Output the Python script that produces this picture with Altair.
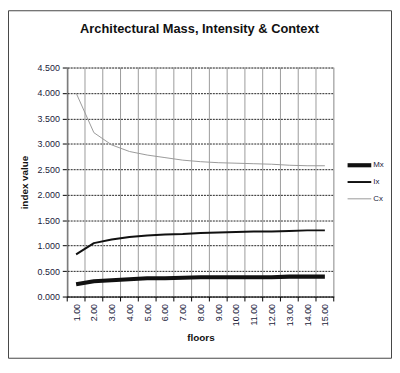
import altair as alt
import pandas as pd

floors = list(range(1, 16))
series_names = ["Mx", "Ix", "Cx"]
mx = [0.24, 0.30, 0.32, 0.34, 0.36, 0.36, 0.37, 0.38, 0.38, 0.38, 0.38, 0.38, 0.39, 0.39, 0.39]
ix = [0.83, 1.05, 1.12, 1.17, 1.20, 1.22, 1.23, 1.25, 1.26, 1.27, 1.28, 1.28, 1.29, 1.30, 1.30]
cx = [4.00, 3.22, 2.98, 2.85, 2.78, 2.73, 2.68, 2.65, 2.63, 2.62, 2.61, 2.60, 2.58, 2.57, 2.57]
y_ticks = [0.0, 0.5, 1.0, 1.5, 2.0, 2.5, 3.0, 3.5, 4.0, 4.5]
title_text = "Architectural Mass, Intensity & Context"

rows = []
for name, vals in zip(series_names, [mx, ix, cx]):
    for f, v in zip(floors, vals):
        rows.append({"series": name, "floor": f, "value": v})
df = pd.DataFrame(rows)

bounds = pd.DataFrame({"floor": [f - 0.5 for f in floors] + [floors[-1] + 0.5]})

W, H = 270, 232
FONT = "Liberation Sans"
LABEL_COLOR = "#1a1a3a"

xscale = alt.Scale(domain=[0.5, 15.5], nice=False, zero=False)
yscale = alt.Scale(domain=[0, 4.5], nice=False)
cscale = alt.Scale(domain=series_names, range=["#111", "#111", "#999999"])
wscale = alt.Scale(type="ordinal", domain=series_names, range=[4.2, 2, 1])

xaxis = alt.Axis(
    values=floors, format=".2f", labelAngle=-90, ticks=False, grid=False,
    labelOverlap=False, labelFlush=False,
    domainColor="#000", labelFont=FONT, labelFontSize=9, labelColor=LABEL_COLOR,
    labelPadding=7, title="floors", titleFont=FONT, titleFontSize=10,
    titleFontWeight="bold", titleColor="#111", titlePadding=7,
)
yaxis = alt.Axis(
    values=y_ticks, format=".3f", grid=True, gridColor="#222", gridDash=[2, 1],
    tickSize=5, tickColor="#000", domainColor="#000",
    labelFont=FONT, labelFontSize=9, labelColor=LABEL_COLOR, labelPadding=3,
    title="index value", titleFont=FONT, titleFontSize=10, titleFontWeight="bold",
    titleColor="#111", titlePadding=8,
)

one = pd.DataFrame({"a": [0]})

border = alt.Chart(one).mark_rect(
    fillOpacity=0, stroke="#444", strokeWidth=1
).encode(
    x=alt.value(-59.5), x2=alt.value(328.5), y=alt.value(-57.5), y2=alt.value(294.5)
)

title = alt.Chart(one).mark_text(
    text=title_text, font=FONT, fontSize=13, fontWeight="bold", color="#111",
    align="center", baseline="middle",
).encode(x=alt.value(134), y=alt.value(-39))

vgrid = alt.Chart(bounds).mark_rule(color="#9a9a9a", strokeWidth=1).encode(
    x=alt.X("floor:Q", scale=xscale, axis=xaxis),
    y=alt.value(0), y2=alt.value(H),
)

xticks = alt.Chart(bounds).mark_rule(color="#000", strokeWidth=1).encode(
    x=alt.X("floor:Q", scale=xscale, axis=xaxis),
    y=alt.value(H), y2=alt.value(H + 5),
)

lines = alt.Chart(df).mark_line(strokeCap="butt", strokeJoin="round").encode(
    x=alt.X("floor:Q", scale=xscale, axis=xaxis),
    y=alt.Y("value:Q", scale=yscale, axis=yaxis),
    color=alt.Color("series:N", scale=cscale, legend=None),
    strokeWidth=alt.StrokeWidth("series:N", scale=wscale, legend=None),
    order="floor:Q",
)

legend_layers = []
for i, name in enumerate(series_names):
    d = pd.DataFrame({"series": [name]})
    ly = 99 + 17 * i
    legend_layers.append(
        alt.Chart(d).mark_rule(strokeCap="butt").encode(
            x=alt.value(284), x2=alt.value(308), y=alt.value(ly),
            color=alt.Color("series:N", scale=cscale, legend=None),
            strokeWidth=alt.StrokeWidth("series:N", scale=wscale, legend=None),
        )
    )
    legend_layers.append(
        alt.Chart(d).mark_text(
            font=FONT, fontSize=8, color=LABEL_COLOR, align="left", baseline="middle"
        ).encode(x=alt.value(310), y=alt.value(ly), text="series:N")
    )

chart = alt.layer(border, title, vgrid, xticks, lines, *legend_layers).properties(
    width=W,
    height=H,
    autosize=alt.AutoSizeParams(type="none"),
    padding={"left": 60, "top": 58, "right": 59, "bottom": 63},
).configure_view(stroke=None).configure(background="white")

chart.save("out.html", embed_options={"renderer": "svg", "actions": False})
